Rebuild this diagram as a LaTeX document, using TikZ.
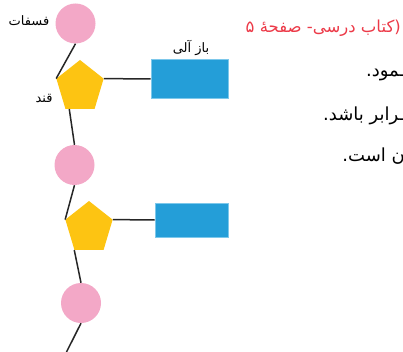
\documentclass[tikz,border=0pt]{standalone}
\usepackage{fontspec}
\usetikzlibrary{shapes.geometric}
\TeXXeTstate=1
\newfontfamily\arabicfont[Script=Arabic]{DejaVu Sans}

\definecolor{phosPink}{RGB}{243,168,199}
\definecolor{sugarYellow}{RGB}{253,196,18}
\definecolor{baseBlue}{RGB}{36,158,216}
\definecolor{baseEdge}{RGB}{125,200,235}
\definecolor{noteRed}{RGB}{236,58,72}
\definecolor{bondGray}{RGB}{38,38,38}

\tikzstyle{phosphate} = [circle, fill=phosPink, minimum size=40pt, inner sep=0pt]
\tikzstyle{sugar} = [regular polygon, regular polygon sides=5, fill=sugarYellow, minimum size=54pt, inner sep=0pt, xscale=0.92, transform shape]
\tikzstyle{basebox} = [rectangle, fill=baseBlue, draw=baseEdge, line width=0.6pt, inner sep=0pt]
\tikzstyle{partname} = [font=\arabicfont\fontsize{13}{15}\selectfont, inner sep=0pt]
\tikzstyle{pagetext} = [font=\arabicfont\fontsize{18}{21}\selectfont, anchor=base east, inner sep=0pt]
\tikzstyle{bond} = [draw=bondGray, line width=1.5pt]

\begin{document}
\begin{tikzpicture}[x=1pt, y=1pt]
    \useasboundingbox (0,0) rectangle (403,-352);
    \clip (0,0) rectangle (403,-352);

    \node[phosphate] (phos1) at (75.5,-23.5) {};
    \node[sugar] (sugar1) at (80,-87) {};
    \node[basebox, minimum width=77pt, minimum height=39pt] (base1) at (189.5,-79) {};
    \node[phosphate] (phos2) at (74.5,-165) {};
    \node[sugar] (sugar2) at (89,-228) {};
    \node[basebox, minimum width=73pt, minimum height=34pt] (base2) at (191.5,-220) {};
    \node[phosphate] (phos3) at (81,-303) {};
    \coordinate (tail) at (66.5,-352);

    % names
    \node[partname] (phosName) at (29,-21) {\beginR فسفات\endR};
    \node[partname] (sugarName) at (44,-98) {\beginR قند\endR};
    \node[partname] (baseName) at (191,-48) {\beginR باز آلی\endR};

    % lines
    \draw[bond] (phos1.south) -- (sugar1.corner 2);
    \draw[bond] (sugar1.corner 5) -- (base1.west);
    \draw[bond] ([xshift=4pt]sugar1.corner 3) -- (phos2.north);
    \draw[bond] (phos2.south) -- (sugar2.corner 2);
    \draw[bond] (sugar2.corner 5) -- (base2.west);
    \draw[bond] (sugar2.corner 3) -- (phos3.north);
    \draw[bond] (phos3.south) -- (tail);

    % page text
    \node[pagetext, text=noteRed, font=\arabicfont\fontsize{16.5}{19}\selectfont] (source) at (401,-33) {\beginR(کتاب درسی- صفحهٔ ۵\endR};
    \node[pagetext] (line1) at (405,-77) {\beginR ـمود.\endR};
    \node[pagetext] (line2) at (405,-121) {\beginR ـرابر باشد.\endR};
    \node[pagetext] (line3) at (405,-162) {\beginR ن است.\endR};
\end{tikzpicture}
\end{document}
